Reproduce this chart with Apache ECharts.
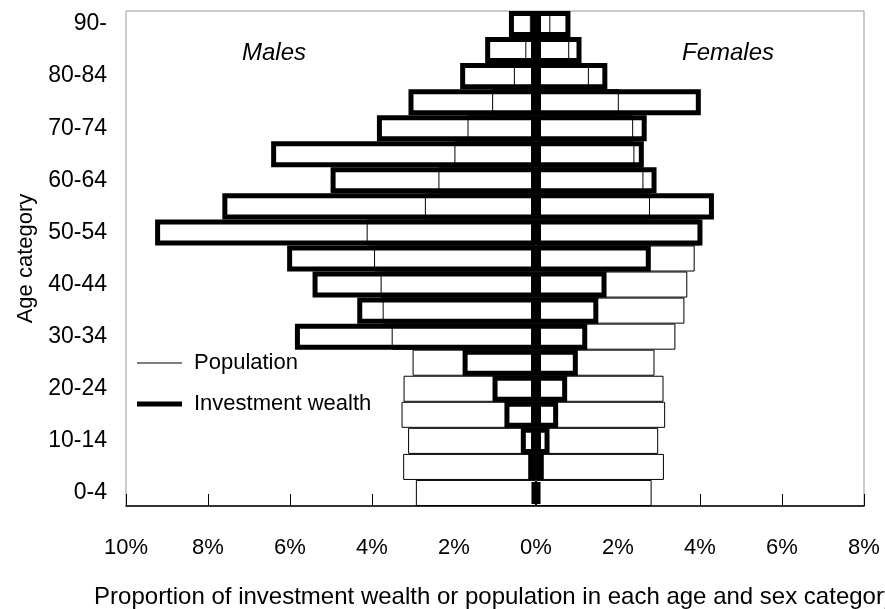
<!DOCTYPE html>
<html>
<head>
<meta charset="utf-8">
<script src="https://cdn.jsdelivr.net/npm/echarts@6/dist/echarts.min.js"></script>
<style>
  html, body { margin: 0; padding: 0; background: #fff; }
  #chart { width: 885px; height: 609px; }
</style>
</head>
<body>
<div id="chart"></div>
<script>
// age groups, youngest first (bottom of the pyramid)
const ages = ['0-4', '5-9', '10-14', '15-19', '20-24', '25-29', '30-34', '35-39', '40-44', '45-49',
  '50-54', '55-59', '60-64', '65-69', '70-74', '75-79', '80-84', '85-89', '90-']

// % of population, by sex
const malePop = [2.93, 3.24, 3.12, 3.28, 3.23, 3.01, 3.52, 3.74, 3.79, 3.95,
  4.13, 2.71, 2.38, 1.99, 1.67, 1.07, 0.54, 0.26, 0.15]
const femalePop = [2.82, 3.12, 2.98, 3.15, 3.11, 2.89, 3.40, 3.62, 3.69, 3.87,
  4.00, 2.78, 2.62, 2.40, 2.37, 2.02, 1.29, 0.81, 0.35]

// % of investment wealth, by sex
const maleWealth = [0.10, 0.19, 0.37, 0.77, 1.06, 1.79, 5.88, 4.36, 5.45, 6.07,
  9.29, 7.65, 5.01, 6.46, 3.88, 3.11, 1.85, 1.24, 0.66]
const femaleWealth = [0.10, 0.19, 0.33, 0.54, 0.76, 1.02, 1.25, 1.52, 1.72, 2.80,
  4.06, 4.34, 2.94, 2.63, 2.70, 4.02, 1.74, 1.11, 0.84]

const xTicks = { min: -10, max: 8, step: 2 }

const font = "'Liberation Sans', Arial, sans-serif"
const chart = echarts.init(document.getElementById('chart'))

const gridTop = 11, gridBottom = 103
const plotH = 609 - gridTop - gridBottom

const popStyle = { color: '#fff', borderColor: '#000', borderWidth: 1 }
const wealthStyle = { color: 'rgba(0,0,0,0)', borderColor: '#000', borderWidth: 5 }
const barBase = { type: 'bar', barGap: '-100%', barCategoryGap: '0%', silent: true, animation: false }
const sideLabel = { fontFamily: font, fontStyle: 'italic', fontWeight: 'normal', fontSize: 24, color: '#000' }
const legendText = { fontFamily: font, fontSize: 22, color: '#000', padding: [0, 0, 0, 7] }

chart.setOption({
  textStyle: { fontFamily: font, color: '#000' },
  grid: { left: 126, right: 21, top: gridTop, bottom: gridBottom, outerBoundsMode: 'none', show: true, borderColor: '#999', borderWidth: 1 },
  title: [
    { text: 'Males', left: 242, top: 41, padding: 0, textStyle: sideLabel },
    { text: 'Females', left: 682, top: 41, padding: 0, textStyle: sideLabel }
  ],
  legend: [
    { left: 137, top: 352, padding: 0, selectedMode: false, itemWidth: 45, itemHeight: 1,
      data: [{ name: 'Population', icon: 'rect', itemStyle: { color: '#000', borderWidth: 0 } }],
      textStyle: legendText },
    { left: 137, top: 393, padding: 0, selectedMode: false, itemWidth: 45, itemHeight: 5,
      data: [{ name: 'Investment wealth', icon: 'rect', itemStyle: { color: '#000', borderWidth: 0 } }],
      textStyle: legendText }
  ],
  xAxis: [
    {
      type: 'value', min: xTicks.min, max: xTicks.max, interval: xTicks.step,
      name: 'Proportion of investment wealth or population in each age and sex category',
      nameLocation: 'middle', nameGap: 79,
      nameTextStyle: { fontFamily: font, fontSize: 24, color: '#000' },
      axisLine: { lineStyle: { color: '#000', width: 1.5 } },
      axisTick: { length: 11, lineStyle: { color: '#000' } },
      axisLabel: { margin: 31, fontSize: 22, color: '#000', formatter: v => Math.abs(v) + '%' },
      splitLine: { show: false }
    },
    {
      // top axis pushed down onto the bottom edge: its outward ticks are the upper halves
      type: 'value', min: xTicks.min, max: xTicks.max, interval: xTicks.step, position: 'top', offset: -plotH,
      axisLine: { show: true, onZero: false, lineStyle: { color: '#000', width: 1.5 } },
      axisTick: { show: true, length: 12, lineStyle: { color: '#000' } },
      axisLabel: { show: false },
      splitLine: { show: false }
    }
  ],
  yAxis: {
    type: 'category', data: ages,
    name: 'Age category', nameLocation: 'middle', nameGap: 89,
    nameTextStyle: { fontFamily: font, fontSize: 22, color: '#000' },
    axisLine: { show: false },
    axisTick: { show: false },
    axisLabel: { interval: 1, margin: 19, fontSize: 23, color: '#000' }
  },
  series: [
    { ...barBase, name: 'Population', data: malePop.map(v => -v), itemStyle: popStyle },
    { ...barBase, name: 'Population', data: femalePop, itemStyle: popStyle },
    { ...barBase, name: 'Investment wealth', data: maleWealth.map(v => -v), itemStyle: wealthStyle },
    { ...barBase, name: 'Investment wealth', data: femaleWealth, itemStyle: wealthStyle }
  ]
})
</script>
</body>
</html>
